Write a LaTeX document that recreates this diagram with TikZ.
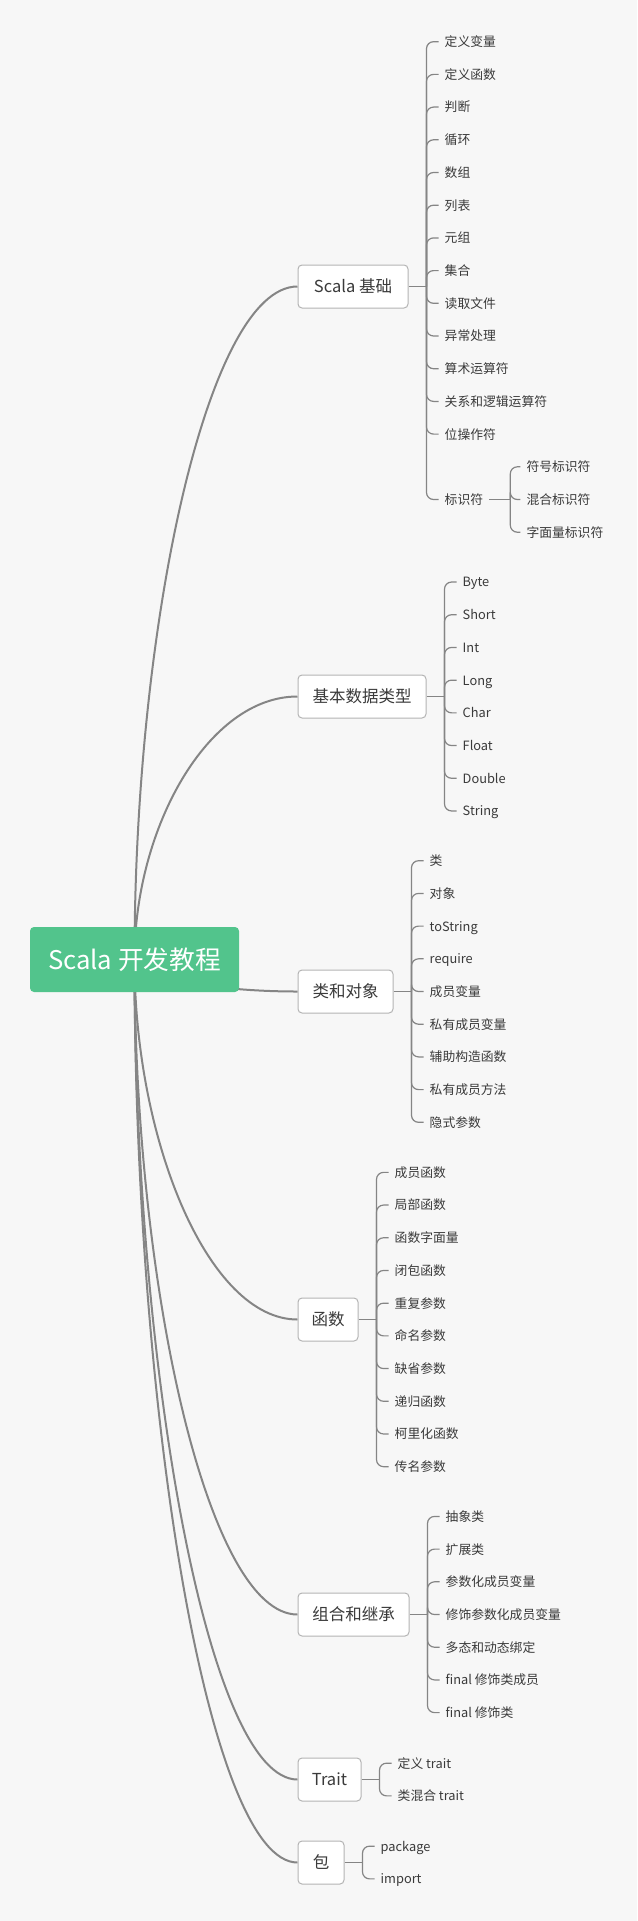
\documentclass[tikz,border=0pt]{standalone}
\usepackage{fontspec}
\setmainfont{Noto Sans CJK SC}
\usetikzlibrary{calc,backgrounds}
\definecolor{bgcol}{HTML}{F7F7F7}
\definecolor{rootcol}{HTML}{52C48C}
\definecolor{linecol}{HTML}{858585}
\definecolor{boxline}{HTML}{B4B4B4}
\definecolor{txtcol}{HTML}{3A3A3A}

\begin{document}
\begin{tikzpicture}[x=1pt,y=-1pt,
    root/.style={fill=rootcol, rounded corners=4pt, minimum width=209pt, minimum height=65pt,
        text=white, font=\fontsize{25.7}{28}\selectfont, text height=22pt, text depth=2.4pt},
    topic/.style={anchor=west, draw=boxline, line width=1pt, fill=white, rounded corners=4pt,
        minimum height=43pt, inner xsep=0pt, text=txtcol,
        font=\fontsize{16.5}{18}\selectfont, text height=14pt, text depth=1.5pt},
    leaf/.style={anchor=west, inner xsep=6pt, inner ysep=1pt, text=txtcol,
        font=\fontsize{12.8}{14}\selectfont, text height=11pt, text depth=1.2pt},
    branch/.style={draw=linecol, line width=2pt},
    twig/.style={draw=linecol, line width=1.2pt, rounded corners=7pt}]

    % Canvas
    \useasboundingbox (0,0) rectangle (637,1921);

    % Central topic
    \node[root] (root) at (134.5,959.5) {Scala 开发教程};

    % Main topics
    \node[topic, minimum width=110pt] (basic) at (297.5,286.5) {Scala 基础};
    \node[topic, minimum width=128pt] (types) at (297.5,696.5) {基本数据类型};
    \node[topic, minimum width=95pt] (oop) at (297.5,991.5) {类和对象};
    \node[topic, minimum width=60pt] (func) at (297.5,1319.5) {函数};
    \node[topic, minimum width=111pt] (inherit) at (297.5,1614.5) {组合和继承};
    \node[topic, minimum width=63pt] (trait) at (297.5,1779.5) {Trait};
    \node[topic, minimum width=46pt] (pkg) at (297.5,1862.5) {包};

    % Curves from the centre
    \begin{scope}[on background layer]
        \fill[bgcol] (0,0) rectangle (637,1921);
        \foreach \b in {basic,types,oop,func,inherit,trait,pkg}
            \draw[branch] (root.center) .. controls ($(root.center)!0.5!(root.center |- \b.west)$)
                and ($(root.center |- \b.west)!0.45!(\b.west)$) .. (\b.west);
    \end{scope}

    % Scala 基础
    \draw[twig] (basic.east) -- ++(18,0) coordinate (basicj);
    \foreach \t [count=\i from 0] in {定义变量,定义函数,判断,循环,数组,列表,元组,集合,读取文件,异常处理,算术运算符,关系和逻辑运算符,位操作符} {
        \node[leaf] (basic\i) at ($(basic.east)+(30,{41.7+32.7*\i-286.5})$) {\t};
        \draw[twig] (basicj) |- (basic\i.west);
    }
    \node[leaf] (ident) at ($(basic.east)+(30,213)$) {标识符};
    \draw[twig] (basicj) |- (ident.west);
    \draw[twig] (ident.east) -- ++(21,0) coordinate (identj);
    \foreach \t [count=\i] in {符号标识符,混合标识符,字面量标识符} {
        \node[leaf] (ident\i) at ($(identj)+(10,{32.7*(\i-2)})$) {\t};
        \draw[twig] (identj) |- (ident\i.west);
    }

    % 基本数据类型
    \draw[twig] (types.east) -- ++(18,0) coordinate (typesj);
    \foreach \t [count=\i] in {Byte,Short,Int,Long,Char,Float,Double,String} {
        \node[leaf] (types\i) at ($(types.east)+(30,{32.7*(\i-4.5)})$) {\t};
        \draw[twig] (typesj) |- (types\i.west);
    }

    % 类和对象
    \draw[twig] (oop.east) -- ++(18,0) coordinate (oopj);
    \foreach \t [count=\i] in {类,对象,toString,require,成员变量,私有成员变量,辅助构造函数,私有成员方法,隐式参数} {
        \node[leaf] (oop\i) at ($(oop.east)+(30,{32.7*(\i-5)})$) {\t};
        \draw[twig] (oopj) |- (oop\i.west);
    }

    % 函数
    \draw[twig] (func.east) -- ++(18,0) coordinate (funcj);
    \foreach \t [count=\i] in {成员函数,局部函数,函数字面量,闭包函数,重复参数,命名参数,缺省参数,递归函数,柯里化函数,传名参数} {
        \node[leaf] (func\i) at ($(func.east)+(30,{32.7*(\i-5.5)})$) {\t};
        \draw[twig] (funcj) |- (func\i.west);
    }

    % 组合和继承
    \draw[twig] (inherit.east) -- ++(18,0) coordinate (inheritj);
    \foreach \t [count=\i] in {抽象类,扩展类,参数化成员变量,修饰参数化成员变量,多态和动态绑定,final 修饰类成员,final 修饰类} {
        \node[leaf] (inherit\i) at ($(inherit.east)+(30,{32.7*(\i-4)})$) {\t};
        \draw[twig] (inheritj) |- (inherit\i.west);
    }

    % Trait
    \draw[twig] (trait.east) -- ++(18,0) coordinate (traitj);
    \foreach \t [count=\i] in {定义 trait,类混合 trait} {
        \node[leaf] (trait\i) at ($(trait.east)+(30,{32.7*(\i-1.5)})$) {\t};
        \draw[twig] (traitj) |- (trait\i.west);
    }

    % 包
    \draw[twig] (pkg.east) -- ++(18,0) coordinate (pkgj);
    \foreach \t [count=\i] in {package,import} {
        \node[leaf] (pkg\i) at ($(pkg.east)+(30,{32.7*(\i-1.5)})$) {\t};
        \draw[twig] (pkgj) |- (pkg\i.west);
    }
\end{tikzpicture}
\end{document}
